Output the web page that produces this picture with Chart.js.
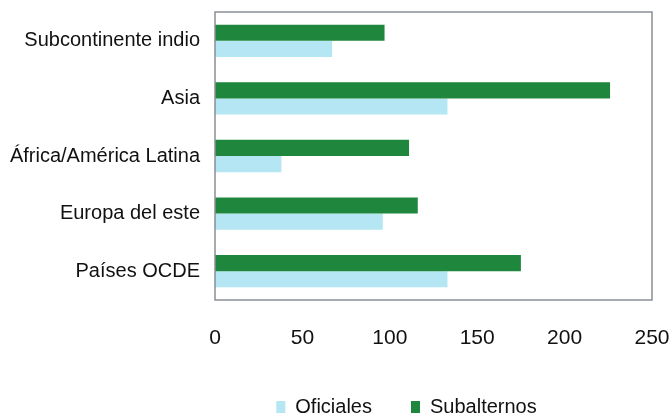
<!DOCTYPE html>
<html>
<head>
<meta charset="utf-8">
<script src="https://cdn.jsdelivr.net/npm/chart.js@4.4.0/dist/chart.umd.min.js"></script>
<style>
    html, body { margin: 0; padding: 0; background: #fff; }
    #wrap { width: 672px; height: 419px; position: relative; }
</style>
</head>
<body>
<div id="wrap"><canvas id="chart"></canvas></div>
<script>
const regions = ['Subcontinente indio', 'Asia', 'África/América Latina', 'Europa del este', 'Países OCDE'];
const oficiales = [67, 133, 38, 96, 133];
const subalternos = [97, 226, 111, 116, 175];
const xTicks = [0, 50, 100, 150, 200, 250];

const FONT = "'Liberation Sans', Arial, sans-serif";

// frame around the plot area
const framePlugin = {
    id: 'frame',
    afterDatasetsDraw(chart) {
        const { ctx, chartArea: a } = chart;
        ctx.save();
        ctx.strokeStyle = '#8a8f94';
        ctx.lineWidth = 1.5;
        ctx.strokeRect(a.left, a.top, a.right - a.left, a.bottom - a.top);
        ctx.restore();
    }
};

// nudge the legend a bit left and down, like the original
const legendShift = {
    id: 'legendShift',
    afterLayout(chart) {
        const lg = chart.legend;
        lg.left -= 27;
        lg.right -= 27;
        lg.top += 8;
        lg.bottom += 8;
    }
};

const ctx = document.getElementById('chart').getContext('2d');
new Chart(ctx, {
    type: 'bar',
    data: {
        labels: regions,
        datasets: [{
            label: 'Subalternos',
            data: subalternos,
            backgroundColor: '#1f873d',
            categoryPercentage: 0.56,
            barPercentage: 1
        }, {
            label: 'Oficiales',
            data: oficiales,
            backgroundColor: '#b5e6f3',
            categoryPercentage: 0.56,
            barPercentage: 1
        }]
    },
    options: {
        indexAxis: 'y',
        responsive: true,
        maintainAspectRatio: false,
        animation: false,
        layout: {
            padding: { top: 12, right: 20, left: 0, bottom: 0 }
        },
        plugins: {
            legend: {
                position: 'bottom',
                fullSize: false,
                labels: {
                    color: '#111',
                    font: { family: FONT, size: 20 },
                    boxWidth: 9,
                    boxHeight: 12,
                    padding: 39,
                    sort: (a, b) => b.datasetIndex - a.datasetIndex
                }
            },
            tooltip: { enabled: false }
        },
        scales: {
            x: {
                min: 0,
                max: 250,
                afterBuildTicks: (scale) => {
                    scale.ticks = xTicks.map(v => ({ value: v }));
                },
                afterFit: (scale) => {
                    scale.height = 50;
                    scale.paddingLeft = 0;
                    scale.paddingRight = 0;
                },
                grid: { display: false, drawTicks: false },
                border: { display: false },
                ticks: {
                    color: '#111',
                    padding: 26,
                    font: { family: FONT, size: 21 }
                }
            },
            y: {
                afterFit: (scale) => {
                    scale.width = 215;
                    scale.paddingTop = 0;
                    scale.paddingBottom = 0;
                },
                grid: { display: false, drawTicks: false },
                border: { display: false },
                ticks: {
                    color: '#111',
                    padding: 15,
                    font: { family: FONT, size: 20 }
                }
            }
        }
    },
    plugins: [framePlugin, legendShift]
});
</script>
</body>
</html>
